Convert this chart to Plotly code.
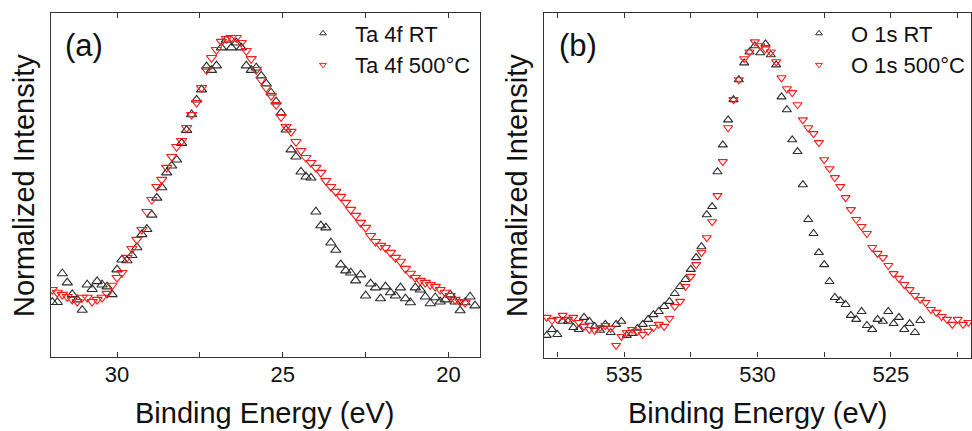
import plotly.graph_objects as go

# ---------------- data ----------------
ta_energy = [31.95, 31.8, 31.65, 31.5, 31.35, 31.2, 31.05, 30.9, 30.75, 30.6,
             30.45, 30.3, 30.15, 30.0, 29.85, 29.7, 29.55, 29.4, 29.25, 29.1,
             28.95, 28.8, 28.65, 28.5, 28.35, 28.2, 28.05, 27.9, 27.75, 27.6,
             27.45, 27.3, 27.15, 27.0, 26.85, 26.7, 26.55, 26.4, 26.25, 26.1,
             25.95, 25.8, 25.65, 25.5, 25.35, 25.2, 25.05, 24.9, 24.75, 24.6,
             24.45, 24.3, 24.15, 24.0, 23.85, 23.7, 23.55, 23.4, 23.25, 23.1,
             22.95, 22.8, 22.65, 22.5, 22.35, 22.2, 22.05, 21.9, 21.75, 21.6,
             21.45, 21.3, 21.15, 21.0, 20.85, 20.7, 20.55, 20.4, 20.25, 20.1,
             19.95, 19.8, 19.65, 19.5, 19.35, 19.2]

ta_rt = [-0.01, -0.01, 0.10, 0.065, 0.02, 0.0, -0.04, 0.057, 0.04, 0.07,
         0.057, 0.05, 0.02, 0.115, 0.153, 0.15, 0.17, 0.20, 0.25, 0.27,
         0.325, 0.39, 0.43, 0.487, 0.513, 0.536, 0.60, 0.65, 0.71, 0.766,
         0.805, 0.893, 0.88, 0.897, 0.966, 0.996, 0.966, 0.985, 0.966, 0.897,
         0.88, 0.889, 0.858, 0.828, 0.793, 0.759, 0.716, 0.651, 0.575, 0.548,
         0.49, 0.471, 0.467, 0.337, 0.284, 0.276, 0.218, 0.19, 0.134, 0.111,
         0.103, 0.073, 0.096, 0.015, 0.061, 0.046, 0.004, 0.05, 0.027, 0.015,
         0.046, 0.004, -0.011, 0.046, 0.038, 0.011, -0.015, 0.008, -0.008, 0.0,
         0.019, -0.008, -0.042, -0.011, 0.011, -0.023]

ta_500 = [0.038, 0.027, 0.019, 0.011, 0.0, -0.008, 0.008, 0.008, -0.008, 0.0,
          0.008, 0.023, 0.054, 0.084, 0.103, 0.161, 0.195, 0.23, 0.268, 0.337,
          0.383, 0.433, 0.46, 0.506, 0.548, 0.586, 0.609, 0.659, 0.709, 0.755,
          0.812, 0.881, 0.927, 0.958, 0.989, 1.0, 1.004, 1.004, 0.985, 0.954,
          0.923, 0.881, 0.843, 0.812, 0.782, 0.747, 0.701, 0.663, 0.644, 0.605,
          0.571, 0.544, 0.525, 0.506, 0.487, 0.456, 0.433, 0.414, 0.395, 0.372,
          0.345, 0.322, 0.295, 0.276, 0.245, 0.222, 0.207, 0.199, 0.18, 0.161,
          0.146, 0.119, 0.1, 0.084, 0.073, 0.065, 0.057, 0.05, 0.038, 0.027,
          0.015, 0.0, -0.008, -0.011]

o_energy = [537.9, 537.7, 537.5, 537.3, 537.1, 536.9, 536.7, 536.5, 536.3, 536.1,
            535.9, 535.7, 535.5, 535.3, 535.1, 534.9, 534.7, 534.5, 534.3, 534.1,
            533.9, 533.7, 533.5, 533.3, 533.1, 532.9, 532.7, 532.5, 532.3, 532.1,
            531.9, 531.7, 531.5, 531.3, 531.1, 530.9, 530.7, 530.5, 530.3, 530.1,
            529.9, 529.7, 529.5, 529.3, 529.1, 528.9, 528.7, 528.5, 528.3, 528.1,
            527.9, 527.7, 527.5, 527.3, 527.1, 526.9, 526.7, 526.5, 526.3, 526.1,
            525.9, 525.7, 525.5, 525.3, 525.1, 524.9, 524.7, 524.5, 524.3, 524.1,
            523.9, 523.7, 523.5, 523.3, 523.1, 522.9, 522.7, 522.5, 522.3, 522.1]

o_rt = [-0.046, -0.025, -0.043, 0.004, 0.004, -0.018, -0.025, 0.018, 0.004, -0.014,
        -0.028, -0.007, -0.036, -0.007, 0.004, -0.046, -0.039, -0.021, -0.007, 0.011,
        0.028, 0.039, 0.057, 0.075, 0.103, 0.128, 0.153, 0.189, 0.231, 0.27,
        0.384, 0.413, 0.537, 0.633, 0.722, 0.794, 0.865, 0.925, 0.964, 0.986,
        0.961, 0.993, 0.954, 0.918, 0.804, 0.758, 0.651, 0.609, 0.491, 0.367,
        0.317, 0.249, 0.206, 0.146, 0.089, 0.078, 0.064, 0.025, 0.011, 0.039,
        -0.011, -0.025, 0.011, 0.004, 0.039, -0.004, 0.018, -0.025, -0.004, -0.036,
        0.007]

o_500 = [0.018, 0.007, 0.011, 0.025, 0.011, 0.018, 0.0, -0.014, -0.025, -0.028,
         -0.018, -0.011, -0.021, -0.082, -0.05, -0.036, -0.025, -0.032, -0.043, -0.032,
         -0.018, -0.007, -0.014, 0.014, 0.057, 0.075, 0.128, 0.164, 0.206, 0.249,
         0.302, 0.359, 0.452, 0.573, 0.694, 0.794, 0.865, 0.94, 0.964, 1.0,
         0.986, 0.975, 0.964, 0.929, 0.872, 0.833, 0.819, 0.776, 0.722, 0.694,
         0.673, 0.641, 0.58, 0.548, 0.516, 0.484, 0.445, 0.402, 0.367, 0.342,
         0.317, 0.267, 0.246, 0.231, 0.203, 0.174, 0.157, 0.135, 0.117, 0.096,
         0.082, 0.071, 0.046, 0.036, 0.021, 0.011, -0.007, 0.011, -0.007, 0.0]

ta_ticks = [30, 27.5, 25, 22.5, 20]
ta_ticktext = ["30", "", "25", "", "20"]
o_ticks = [537.5, 535, 532.5, 530, 527.5, 525, 522.5]
o_ticktext = ["", "535", "", "530", "", "525", ""]

names_a = ["Ta 4f RT", "Ta 4f 500°C"]
names_b = ["O 1s RT", "O 1s 500°C"]

# ---------------- style ----------------
FONT = "Liberation Sans, Arial, sans-serif"
BLACK = "#2b2b2b"
RED = "#ff1a1a"
FRAME = "#333333"
W, H = 972, 431

fig = go.Figure()


def data_trace(x, y, sym, col, size, xa, ya):
    return go.Scatter(x=x, y=y, mode="markers", xaxis=xa, yaxis=ya,
                      showlegend=False, hoverinfo="skip",
                      marker=dict(symbol=sym, size=size, color=col,
                                  line=dict(color=col, width=1.1)))


fig.add_trace(data_trace(ta_energy, ta_rt, "triangle-up-open", BLACK, 9, "x", "y"))
fig.add_trace(data_trace(ta_energy[:len(ta_500)], ta_500, "triangle-down-open", RED, 9, "x", "y"))
fig.add_trace(data_trace(o_energy[:len(o_rt)], o_rt, "triangle-up-open", BLACK, 8, "x2", "y2"))
fig.add_trace(data_trace(o_energy, o_500, "triangle-down-open", RED, 8, "x2", "y2"))

# legend-only entries (smaller symbols, as in the reference)
for nm, sym, col, xa, ya, lg in [(names_a[0], "triangle-up-open", BLACK, "x", "y", "legend"),
                                 (names_a[1], "triangle-down-open", RED, "x", "y", "legend"),
                                 (names_b[0], "triangle-up-open", BLACK, "x2", "y2", "legend2"),
                                 (names_b[1], "triangle-down-open", RED, "x2", "y2", "legend2")]:
    fig.add_trace(go.Scatter(x=[None], y=[None], mode="markers", name=nm, xaxis=xa, yaxis=ya,
                             legend=lg, showlegend=True,
                             marker=dict(symbol=sym, size=6, color=col,
                                         line=dict(color=col, width=1))))

axis_common = dict(showline=True, linecolor=FRAME, linewidth=1.4, mirror="allticks",
                   ticklen=5, tickwidth=1.2, tickcolor=FRAME,
                   showgrid=False, zeroline=False,
                   tickfont=dict(family=FONT, size=22, color="#111"))

fig.update_layout(
    width=W, height=H,
    margin=dict(l=0, r=0, t=0, b=0),
    paper_bgcolor="white", plot_bgcolor="white",
    font=dict(family=FONT, color="#111"),
    xaxis=dict(domain=[50.7 / W, 480 / W], range=[32, 19.05], anchor="y", ticks="inside",
               tickmode="array", tickvals=ta_ticks, ticktext=ta_ticktext,
               ticklabelstandoff=-3, **axis_common),
    yaxis=dict(domain=[1 - 357 / H, 1 - 12.7 / H], range=[-0.22, 1.10], anchor="x",
               ticks="", showticklabels=False, **axis_common),
    xaxis2=dict(domain=[544 / W, 971 / W], range=[538, 522], anchor="y2", ticks="inside",
                tickmode="array", tickvals=o_ticks, ticktext=o_ticktext,
                ticklabelstandoff=-3, **axis_common),
    yaxis2=dict(domain=[1 - 357.5 / H, 1 - 12.7 / H], range=[-0.125, 1.104], anchor="x2",
                ticks="", showticklabels=False, **axis_common),
    legend=dict(x=291 / W, y=1 - 12.5 / H, xanchor="left", yanchor="top",
                bgcolor="rgba(0,0,0,0)", borderwidth=0, itemwidth=54,
                font=dict(family=FONT, size=22, color="#111"), tracegroupgap=0),
    legend2=dict(x=787 / W, y=1 - 12.5 / H, xanchor="left", yanchor="top",
                 bgcolor="rgba(0,0,0,0)", borderwidth=0, itemwidth=54,
                 font=dict(family=FONT, size=22, color="#111"), tracegroupgap=0),
)

ann = []
# panel labels
ann.append(dict(text="(a)", x=84 / W, y=1 - 45 / H, xref="paper", yref="paper",
                showarrow=False, xanchor="center", yanchor="middle",
                font=dict(family=FONT, size=31, color="#111")))
ann.append(dict(text="(b)", x=578 / W, y=1 - 45 / H, xref="paper", yref="paper",
                showarrow=False, xanchor="center", yanchor="middle",
                font=dict(family=FONT, size=31, color="#111")))
# axis titles
for cx in [(50.7 + 480) / 2, (544 + 971) / 2]:
    ann.append(dict(text="Binding Energy (eV)", x=cx / W, y=1 - 413 / H, xref="paper", yref="paper",
                    showarrow=False, xanchor="center", yanchor="middle",
                    font=dict(family=FONT, size=29, color="#111")))
for cx in [24, 517]:
    ann.append(dict(text="Normalized Intensity", x=cx / W, y=1 - 186 / H, xref="paper", yref="paper",
                    showarrow=False, xanchor="center", yanchor="middle", textangle=-90,
                    font=dict(family=FONT, size=29, color="#111")))
fig.update_layout(annotations=ann)

fig.write_html("out.html", config={"displayModeBar": False},
               post_script="document.body.style.margin='0';document.body.style.overflow='hidden';")
